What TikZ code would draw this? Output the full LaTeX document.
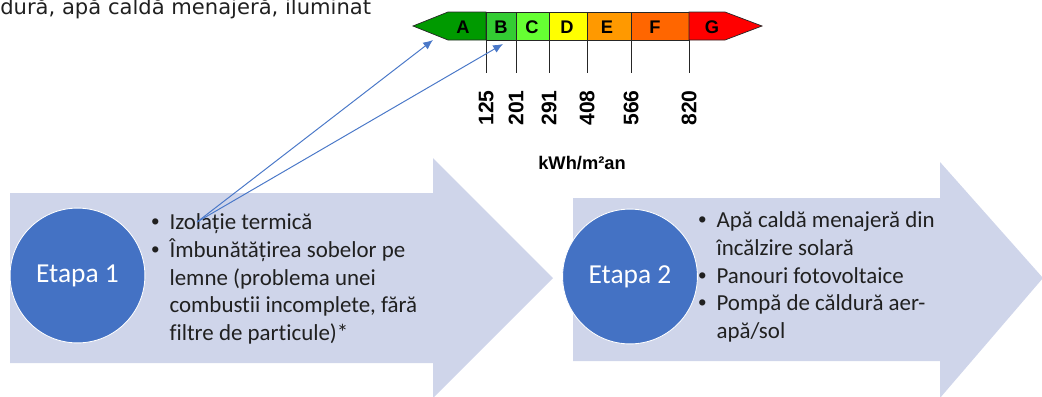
\documentclass[tikz,border=0pt]{standalone}
\usepackage{fontspec}
\setmainfont[Ligatures=CommonOff]{Carlito}
\newfontfamily\bandfont{Liberation Sans}
\newfontfamily\captfont{DejaVu Sans}
\usepackage{tikz}
\usetikzlibrary{arrows.meta,positioning}
\definecolor{ink}{HTML}{202020}
\definecolor{lavender}{HTML}{CFD5EA}
\definecolor{stageblue}{HTML}{4472C4}
\definecolor{pointer}{HTML}{4A78C8}
\definecolor{clsA}{HTML}{009A00}
\definecolor{clsB}{HTML}{33CC33}
\definecolor{clsC}{HTML}{66FF33}
\definecolor{clsD}{HTML}{FFFF00}
\definecolor{clsE}{HTML}{FF9900}
\definecolor{clsF}{HTML}{FF6600}
\definecolor{clsG}{HTML}{FF0000}
\newcommand{\stagebullet}{\makebox[13pt][l]{\bandfont\textbullet}}
\tikzset{
  phasearrow/.style={fill=lavender, draw=none},
  stagedisc/.style={
    circle,
    fill=stageblue,
    draw=white,
    line width=0.6pt,
    minimum size=3.37cm,
    inner sep=0pt,
    text=white,
    font=\fontsize{19.5}{23}\selectfont
  },
  stagelist/.style={
    anchor=west,
    inner sep=0pt,
    text=ink,
    align=left,
    font=\fontsize{16.3}{19.6}\selectfont
  },
  note/.style={font=\captfont\fontsize{15}{18}\selectfont, text=ink, inner sep=0pt},
  band/.style={draw=black!85, line width=0.5pt},
  bandletter/.style={font=\bandfont\bfseries\fontsize{13}{15}\selectfont, text=black, inner sep=0pt},
  ticklabel/.style={rotate=90, font=\bandfont\bfseries\fontsize{15}{17}\selectfont, text=black, inner sep=0pt},
  unitlabel/.style={font=\bandfont\bfseries\fontsize{13}{15}\selectfont, text=black, inner sep=0pt},
  tickline/.style={draw=black!85, line width=0.6pt},
  pointarrow/.style={-{Latex[length=7pt,width=6pt]}, draw=pointer, line width=0.7pt}
}

\begin{document}
\begin{tikzpicture}[x=0.025cm, y=-0.025cm]
  \useasboundingbox (0,0) rectangle (1042,396);
  \clip (0,0) rectangle (1042,396);

  % stage arrows
  \fill[phasearrow] (10,193) -- (433,193) -- (433,158) -- (553,278) -- (433,398) -- (433,363) -- (10,363) -- cycle;
  \fill[phasearrow] (573,198) -- (940,198) -- (940,162) -- (1043,278) -- (940,398) -- (940,361) -- (573,361) -- cycle;

  \node[stagedisc] (disc1) at (77.5,275.5) {Etapa 1};
  \node[stagedisc] (disc2) at (630,276.5) {Etapa 2};

  \node[stagelist] (list1) at (151,279.5)
    {\begin{tabular}{@{}l@{}l@{}}
      \stagebullet & Izolație termică\\
      \stagebullet & Îmbunătățirea sobelor pe\\
                   & lemne (problema unei\\
                   & combustii incomplete, fără\\
                   & filtre de particule)*
    \end{tabular}};
  \node[stagelist] (list2) at (698,277.5)
    {\begin{tabular}{@{}l@{}l@{}}
      \stagebullet & Apă caldă menajeră din\\
                   & încălzire solară\\
      \stagebullet & Panouri fotovoltaice\\
      \stagebullet & Pompă de căldură aer-\\
                   & apă/sol
    \end{tabular}};

  \node[note, anchor=base west] (topnote) at (0,14) {dură, apă caldă menajeră, iluminat};

  % energy class scale
  \filldraw[band, fill=clsA] (413,26) -- (448,12) -- (486,12) -- (486,40) -- (448,40) -- cycle;
  \filldraw[band, fill=clsB] (486,12) rectangle (516,40);
  \filldraw[band, fill=clsC] (516,12) rectangle (549,40);
  \filldraw[band, fill=clsD] (549,12) rectangle (587,40);
  \filldraw[band, fill=clsE] (587,12) rectangle (631,40);
  \filldraw[band, fill=clsF] (631,12) rectangle (689,40);
  \filldraw[band, fill=clsG] (689,12) -- (725,12) -- (762,26) -- (725,40) -- (689,40) -- cycle;

  \node[bandletter] (clsA) at (463,27) {A};
  \node[bandletter] (clsB) at (501,27) {B};
  \node[bandletter] (clsC) at (532,27) {C};
  \node[bandletter] (clsD) at (567,27) {D};
  \node[bandletter] (clsE) at (607,27) {E};
  \node[bandletter] (clsF) at (655,27) {F};
  \node[bandletter] (clsG) at (712,27) {G};

  \foreach \tx/\tv in {486/125, 516/201, 549/291, 587/408, 631/566, 689/820} {
    \draw[tickline] (\tx,40) -- (\tx,73);
    \node[ticklabel] (lim\tv) at (\tx,108) {\tv};
  }

  \node[unitlabel] (unit) at (582,163) {kWh/m²an};

  % pointers from the insulation item to classes A and B
  \coordinate (izo) at (197,222);
  \coordinate (tipA) at (433,40);
  \coordinate (tipB) at (503,44);
  \draw[pointarrow] (izo) -- (tipA);
  \draw[pointarrow] (izo) -- (tipB);
\end{tikzpicture}
\end{document}
